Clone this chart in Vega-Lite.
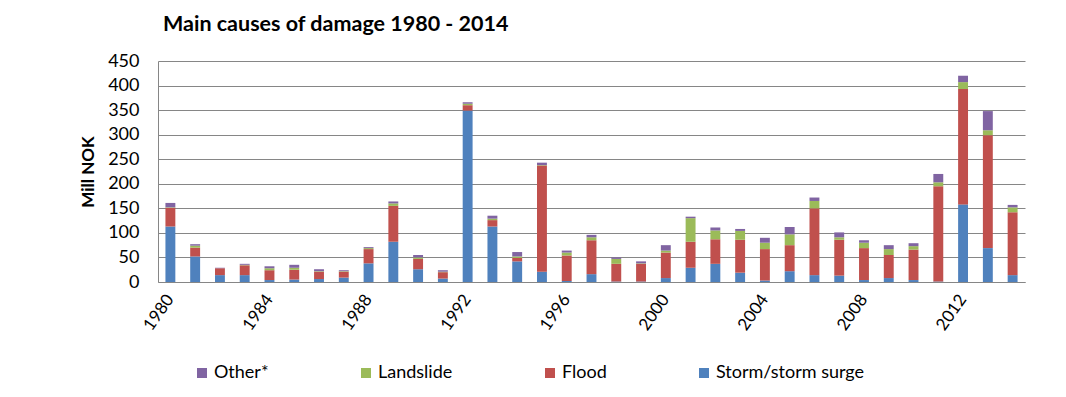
{
  "$schema": "https://vega.github.io/schema/vega-lite/v6.json",
  "width": 867,
  "height": 221,
  "autosize": "none",
  "padding": {"left": 158, "top": 61, "right": 41, "bottom": 115},
  "background": "white",
  "title": {
    "text": "Main causes of damage 1980 - 2014",
    "font": "Lato",
    "fontSize": 21.5,
    "fontWeight": "bold",
    "color": "#000000",
    "anchor": "start",
    "frame": "group",
    "dx": 5,
    "offset": 17
  },
  "data": {
    "values": [
      {"year": 1980, "storm": 113, "flood": 38, "landslide": 1, "other": 9},
      {"year": 1981, "storm": 52, "flood": 18, "landslide": 4, "other": 3},
      {"year": 1982, "storm": 14, "flood": 14, "landslide": 0, "other": 1},
      {"year": 1983, "storm": 14, "flood": 20, "landslide": 1, "other": 2},
      {"year": 1984, "storm": 4, "flood": 20, "landslide": 4, "other": 4},
      {"year": 1985, "storm": 5, "flood": 20, "landslide": 4, "other": 6},
      {"year": 1986, "storm": 6, "flood": 15, "landslide": 1, "other": 4},
      {"year": 1987, "storm": 9, "flood": 12, "landslide": 1, "other": 2},
      {"year": 1988, "storm": 38, "flood": 29, "landslide": 2, "other": 2},
      {"year": 1989, "storm": 82, "flood": 73, "landslide": 5, "other": 4},
      {"year": 1990, "storm": 26, "flood": 21, "landslide": 3, "other": 5},
      {"year": 1991, "storm": 7, "flood": 13, "landslide": 1, "other": 3},
      {"year": 1992, "storm": 349, "flood": 11, "landslide": 3, "other": 3},
      {"year": 1993, "storm": 113, "flood": 13, "landslide": 3, "other": 6},
      {"year": 1994, "storm": 42, "flood": 7, "landslide": 3, "other": 9},
      {"year": 1995, "storm": 21, "flood": 216, "landslide": 1, "other": 5},
      {"year": 1996, "storm": 2, "flood": 52, "landslide": 6, "other": 4},
      {"year": 1997, "storm": 16, "flood": 69, "landslide": 6, "other": 5},
      {"year": 1998, "storm": 1, "flood": 36, "landslide": 10, "other": 3},
      {"year": 1999, "storm": 1, "flood": 36, "landslide": 1, "other": 4},
      {"year": 2000, "storm": 8, "flood": 52, "landslide": 4, "other": 11},
      {"year": 2001, "storm": 29, "flood": 53, "landslide": 48, "other": 3},
      {"year": 2002, "storm": 37, "flood": 50, "landslide": 18, "other": 6},
      {"year": 2003, "storm": 19, "flood": 67, "landslide": 18, "other": 4},
      {"year": 2004, "storm": 3, "flood": 64, "landslide": 13, "other": 10},
      {"year": 2005, "storm": 22, "flood": 53, "landslide": 22, "other": 15},
      {"year": 2006, "storm": 14, "flood": 136, "landslide": 15, "other": 7},
      {"year": 2007, "storm": 13, "flood": 73, "landslide": 5, "other": 10},
      {"year": 2008, "storm": 4, "flood": 65, "landslide": 11, "other": 5},
      {"year": 2009, "storm": 8, "flood": 47, "landslide": 12, "other": 8},
      {"year": 2010, "storm": 4, "flood": 62, "landslide": 7, "other": 6},
      {"year": 2011, "storm": 1, "flood": 194, "landslide": 8, "other": 17},
      {"year": 2012, "storm": 158, "flood": 235, "landslide": 14, "other": 13},
      {"year": 2013, "storm": 69, "flood": 230, "landslide": 10, "other": 39},
      {"year": 2014, "storm": 14, "flood": 128, "landslide": 10, "other": 5}
    ]
  },
  "transform": [
    {"fold": ["storm", "flood", "landslide", "other"], "as": ["cause", "value"]},
    {"calculate": "indexof(['storm','flood','landslide','other'], datum.cause)", "as": "stackOrder"}
  ],
  "mark": {"type": "bar"},
  "encoding": {
    "x": {
      "field": "year",
      "type": "ordinal",
      "scale": {"paddingInner": 0.6, "paddingOuter": 0.3},
      "axis": {
        "title": null,
        "values": [1980, 1984, 1988, 1992, 1996, 2000, 2004, 2008, 2012],
        "labelAngle": -55,
        "labelAlign": "right",
        "labelBaseline": "middle",
        "labelFont": "Lato",
        "labelFontSize": 17,
        "labelColor": "#000000",
        "labelPadding": 14,
        "ticks": false,
        "domainColor": "#868686",
        "domainWidth": 1,
        "grid": false
      }
    },
    "y": {
      "field": "value",
      "type": "quantitative",
      "stack": "zero",
      "scale": {"domain": [0, 450], "nice": false},
      "axis": {
        "title": "Mill NOK",
        "titleFont": "Lato",
        "titleFontSize": 17,
        "titleFontWeight": "bold",
        "titleColor": "#000000",
        "titlePadding": 10,
        "values": [0, 50, 100, 150, 200, 250, 300, 350, 400, 450],
        "labelFont": "Lato",
        "labelFontSize": 18,
        "labelColor": "#000000",
        "labelPadding": 19,
        "ticks": false,
        "domain": true,
        "domainColor": "#868686",
        "grid": true,
        "gridColor": "#868686",
        "gridWidth": 1
      }
    },
    "color": {
      "field": "cause",
      "type": "nominal",
      "scale": {
        "domain": ["other", "landslide", "flood", "storm"],
        "range": ["#8064A2", "#9BBB59", "#C0504D", "#4F81BD"]
      },
      "legend": {
        "title": null,
        "orient": "none",
        "legendX": 35,
        "legendY": 303,
        "direction": "horizontal",
        "columns": 4,
        "columnPadding": 88,
        "symbolType": "square",
        "symbolSize": 100,
        "symbolStrokeWidth": 0,
        "labelOffset": 3,
        "labelFont": "Lato",
        "labelFontSize": 18,
        "labelColor": "#000000",
        "labelExpr": "datum.value == 'other' ? 'Other*' : datum.value == 'landslide' ? 'Landslide' : datum.value == 'flood' ? 'Flood' : 'Storm/storm surge'"
      }
    },
    "order": {"field": "stackOrder", "type": "quantitative"}
  },
  "config": {
    "view": {"stroke": null}
  }
}
